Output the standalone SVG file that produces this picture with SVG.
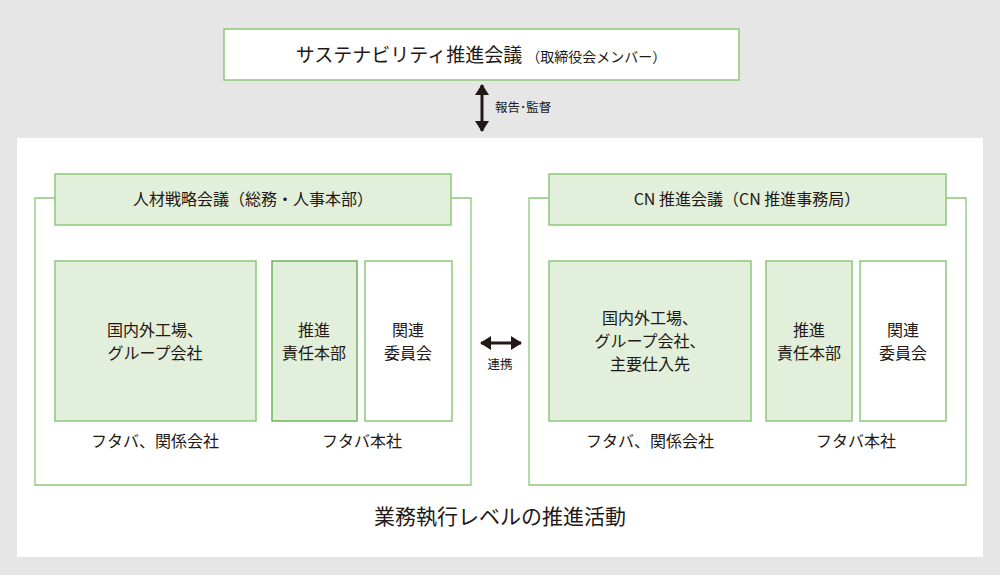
<svg xmlns="http://www.w3.org/2000/svg" width="1000" height="575" viewBox="0 0 1000 575">
<defs>
<style>
text{font-family:"Noto Sans CJK JP","Noto Sans",sans-serif;fill:#231815;text-anchor:middle}
.fill{fill:#e2efda;stroke:#8cc87a;stroke-width:1.5}
.white{fill:#ffffff;stroke:#8cc87a;stroke-width:1.5}
.dark{fill:#e2efda;stroke:#6cb45a;stroke-width:1.5}
.outline{fill:none;stroke:#8cc87a;stroke-width:1.3}
.t16{font-size:16px}
.t12{font-size:12.5px}
.ln{stroke:#231815;stroke-width:3;fill:none}
</style>
<marker id="ah" viewBox="0 0 11 14" refX="10" refY="7" markerWidth="11" markerHeight="14" orient="auto-start-reverse" markerUnits="userSpaceOnUse">
<path d="M0,0 L11,7 L0,14 Z" fill="#231815"/>
</marker>
</defs>
<rect x="0" y="0" width="1000" height="575" fill="#e6e6e6"/>
<rect x="17" y="138" width="966" height="419" fill="#ffffff"/>

<g id="top">
<rect x="224" y="29" width="515" height="51" class="white"/>
<text x="481" y="62"><tspan font-size="19">サステナビリティ推進会議</tspan><tspan font-size="14" dx="4">（取締役会メンバー）</tspan></text>
</g>

<g id="connectors">
<line x1="482" y1="85" x2="482" y2="131" class="ln" marker-start="url(#ah)" marker-end="url(#ah)"/>
<text x="495" y="112" class="t12" style="text-anchor:start">報告･監督</text>
<line x1="481" y1="343" x2="521" y2="343" class="ln" marker-start="url(#ah)" marker-end="url(#ah)"/>
<text x="500" y="369" class="t12">連携</text>
</g>

<g id="left-group">
<path d="M55,198 H35 V485 H471 V198 H451" class="outline"/>
<rect x="55" y="174" width="396" height="51" class="fill"/>
<text x="253" y="205" class="t16">人材戦略会議（総務・人事本部）</text>
</g>
<g id="left-factories">
<rect x="55" y="261" width="201" height="160" class="fill"/>
<text x="155" y="336" class="t16">国内外工場、</text>
<text x="155" y="359" class="t16">グループ会社</text>
</g>
<g id="left-promo">
<rect x="272" y="261" width="85" height="160" class="dark"/>
<text x="314" y="336" class="t16">推進</text>
<text x="314" y="359" class="t16">責任本部</text>
</g>
<g id="left-committee">
<rect x="365" y="261" width="87" height="160" class="white"/>
<text x="408" y="336" class="t16">関連</text>
<text x="408" y="359" class="t16">委員会</text>
</g>
<text x="155" y="447" class="t16">フタバ、関係会社</text>
<text x="362" y="447" class="t16">フタバ本社</text>

<g id="right-group">
<path d="M549,198 H529 V485 H966 V198 H946" class="outline"/>
<rect x="549" y="174" width="397" height="51" class="fill"/>
<text x="747" y="205" class="t16">CN 推進会議（CN 推進事務局）</text>
</g>
<g id="right-factories">
<rect x="549" y="261" width="202" height="160" class="fill"/>
<text x="650" y="324" class="t16">国内外工場、</text>
<text x="650" y="347" class="t16">グループ会社、</text>
<text x="650" y="370" class="t16">主要仕入先</text>
</g>
<g id="right-promo">
<rect x="766" y="261" width="86" height="160" class="fill"/>
<text x="809" y="336" class="t16">推進</text>
<text x="809" y="359" class="t16">責任本部</text>
</g>
<g id="right-committee">
<rect x="860" y="261" width="86" height="160" class="white"/>
<text x="903" y="336" class="t16">関連</text>
<text x="903" y="359" class="t16">委員会</text>
</g>
<text x="650" y="447" class="t16">フタバ、関係会社</text>
<text x="856" y="447" class="t16">フタバ本社</text>

<text x="500" y="524" font-size="21">業務執行レベルの推進活動</text>
</svg>
